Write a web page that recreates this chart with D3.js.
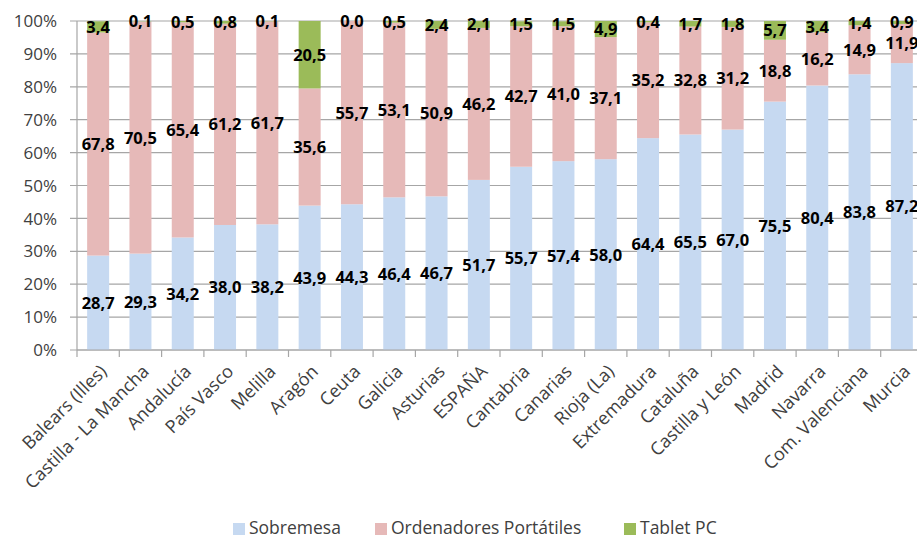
<!DOCTYPE html>
<html>
<head>
<meta charset="utf-8">
<script src="https://cdn.jsdelivr.net/npm/d3@7"></script>
<style>
  body { margin: 0; background: #fff; }
  svg { display: block; font-family: "Open Sans", sans-serif; }
</style>
</head>
<body>
<svg id="chart" width="917" height="540" viewBox="0 0 917 540"></svg>
<script>
const regions = ["Balears (Illes)", "Castilla - La Mancha", "Andalucía", "País Vasco", "Melilla",
  "Aragón", "Ceuta", "Galicia", "Asturias", "ESPAÑA", "Cantabria", "Canarias", "Rioja (La)",
  "Extremadura", "Cataluña", "Castilla y León", "Madrid", "Navarra", "Com. Valenciana", "Murcia"];
const sobremesa = [28.7, 29.3, 34.2, 38.0, 38.2, 43.9, 44.3, 46.4, 46.7, 51.7, 55.7, 57.4, 58.0,
  64.4, 65.5, 67.0, 75.5, 80.4, 83.8, 87.2];
const portatiles = [67.8, 70.5, 65.4, 61.2, 61.7, 35.6, 55.7, 53.1, 50.9, 46.2, 42.7, 41.0, 37.1,
  35.2, 32.8, 31.2, 18.8, 16.2, 14.9, 11.9];
const tablet = [3.4, 0.1, 0.5, 0.8, 0.1, 20.5, 0.0, 0.5, 2.4, 2.1, 1.5, 1.5, 4.9,
  0.4, 1.7, 1.8, 5.7, 3.4, 1.4, 0.9];
const seriesNames = ["Sobremesa", "Ordenadores Portátiles", "Tablet PC"];
const seriesColors = ["#c6d9f1", "#e6b9b8", "#9bbb59"];
const yTicks = [0, 10, 20, 30, 40, 50, 60, 70, 80, 90, 100];

const svg = d3.select("#chart");
const plotLeft = 77, plotTop = 21, plotBottom = 350, step = 42.3;

const rows = regions.map((r, i) => ({ region: r, s0: sobremesa[i], s1: portatiles[i], s2: tablet[i] }));
const keys = ["s0", "s1", "s2"];
const stacked = d3.stack().keys(keys)(rows);

const x = d3.scaleBand().domain(regions).range([plotLeft, plotLeft + step * regions.length]).padding(0);
const y = d3.scaleLinear().domain([0, 100]).range([plotBottom, plotTop]);
const barW = x.bandwidth() * 0.52;

// gridlines
svg.append("g")
  .selectAll("line")
  .data(yTicks)
  .join("line")
  .attr("x1", plotLeft - 7)
  .attr("x2", 917)
  .attr("y1", d => y(d))
  .attr("y2", d => y(d))
  .attr("stroke", "#a6a6a6")
  .attr("stroke-width", 1.2);

// y labels
svg.append("g")
  .selectAll("text")
  .data(yTicks)
  .join("text")
  .attr("x", plotLeft - 20)
  .attr("y", d => y(d))
  .attr("dy", "0.36em")
  .attr("text-anchor", "end")
  .attr("font-size", 17)
  .attr("fill", "#404040")
  .text(d => d + "%");

// bars
const layers = svg.append("g")
  .selectAll("g")
  .data(stacked)
  .join("g")
  .attr("fill", (d, i) => seriesColors[i]);

layers.selectAll("rect")
  .data(d => d)
  .join("rect")
  .attr("x", d => x(d.data.region) + (x.bandwidth() - barW) / 2)
  .attr("width", barW)
  .attr("y", d => y(Math.min(d[1], 100)))
  .attr("height", d => y(d[0]) - y(Math.min(d[1], 100)));

// axes lines
svg.append("line")
  .attr("x1", plotLeft).attr("x2", plotLeft)
  .attr("y1", plotTop).attr("y2", plotBottom)
  .attr("stroke", "#a6a6a6").attr("stroke-width", 1.2);

svg.append("line")
  .attr("x1", plotLeft).attr("x2", 917)
  .attr("y1", plotBottom).attr("y2", plotBottom)
  .attr("stroke", "#a6a6a6").attr("stroke-width", 1.2);

svg.append("g")
  .selectAll("line")
  .data(d3.range(regions.length + 1))
  .join("line")
  .attr("x1", i => plotLeft + i * step)
  .attr("x2", i => plotLeft + i * step)
  .attr("y1", plotBottom)
  .attr("y2", plotBottom + 7)
  .attr("stroke", "#a6a6a6").attr("stroke-width", 1.2);

// value labels
const fmt = v => v.toFixed(1).replace(".", ",");
const labels = svg.append("g");
stacked.forEach((layer, li) => {
  labels.append("g")
    .selectAll("text")
    .data(layer)
    .join("text")
    .attr("x", d => x(d.data.region) + x.bandwidth() / 2)
    .attr("y", d => y((d[0] + Math.min(d[1], 100)) / 2))
    .attr("dy", "0.36em")
    .attr("text-anchor", "middle")
    .attr("font-size", 16.5)
    .attr("font-weight", "bold")
    .attr("fill", "#000")
    .text(d => fmt(d.data[keys[li]]));
});

// category labels
svg.append("g")
  .selectAll("text")
  .data(regions)
  .join("text")
  .attr("transform", d => `translate(${x(d) + x.bandwidth() / 2 + 5},${plotBottom + 18}) rotate(-45)`)
  .attr("text-anchor", "end")
  .attr("dy", "0.36em")
  .attr("font-size", 18)
  .attr("fill", "#404040")
  .text(d => d);

// legend
const legendX = [233, 375, 624];
const legend = svg.append("g")
  .selectAll("g")
  .data(seriesNames)
  .join("g")
  .attr("transform", (d, i) => `translate(${legendX[i]},528)`);

legend.append("rect")
  .attr("x", 0).attr("y", -5)
  .attr("width", 12).attr("height", 12)
  .attr("fill", (d, i) => seriesColors[i]);

legend.append("text")
  .attr("x", 16)
  .attr("dy", "0.32em")
  .attr("font-size", 17.5)
  .attr("fill", "#404040")
  .text(d => d);
</script>
</body>
</html>
